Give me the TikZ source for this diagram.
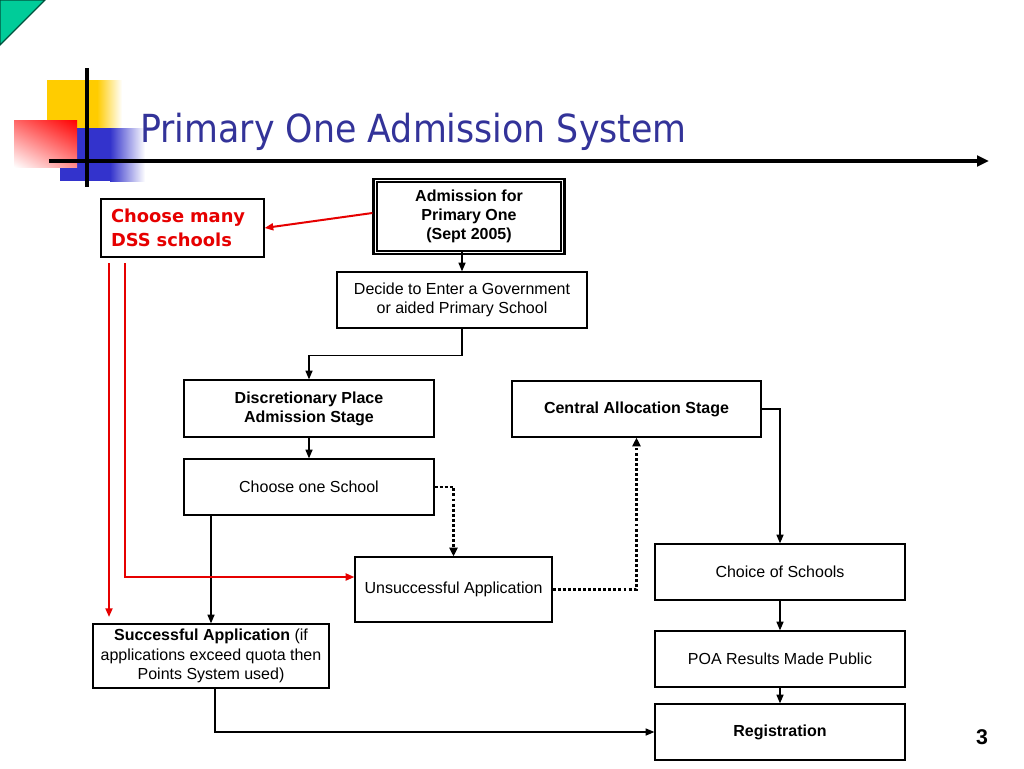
\documentclass[tikz,border=0pt]{standalone}
\usepackage{fontspec}
\setmainfont{Liberation Sans}
\newfontfamily\tahomafont{DejaVu Sans}[FakeStretch=0.9]
\newfontfamily\tahomabold{DejaVu Sans Bold}
\usetikzlibrary{arrows.meta,calc,shadings}
\definecolor{titleblue}{RGB}{51,51,153}
\definecolor{logoY}{RGB}{255,204,0}
\definecolor{logoB}{RGB}{51,51,204}
\definecolor{logoG}{RGB}{0,204,153}
\definecolor{redc}{RGB}{230,0,0}
\begin{document}
\begin{tikzpicture}[x=0.75pt,y=-0.75pt,
  box/.style={draw=black,line width=0.9pt,fill=white,align=center,inner sep=2pt,
    font=\fontsize{12}{14.4}\selectfont},
  arr/.style={line width=1.1pt,-{Triangle[length=6.5pt,width=5.2pt]}},
  dotarr/.style={line width=2.2pt,dash pattern=on 2.2pt off 1.6pt,-{Triangle[length=6.5pt,width=6pt]}},
  redarr/.style={draw=redc,line width=1.5pt,-{Triangle[length=6.5pt,width=5.2pt]}}]
\useasboundingbox (0,0) rectangle (1024,768);
\fill[white] (0,0) rectangle (1024,768);
% decoration
\filldraw[fill=logoG,draw=black!60!logoG,line width=0.8pt] (0,0) -- (45,0) -- (0,45) -- cycle;
\fill[logoY] (47,80) rectangle (97,128);
\shade[left color=logoY,right color=white] (97,80) rectangle (122,128);
\fill[logoB] (60,128) rectangle (110,181);
\shade[left color=logoB,right color=white] (110,128) rectangle (145,181);
\shade[upper left=red!60,upper right=red,lower left=white,lower right=red!45] (14,120) rectangle (77,167);
\coordinate (v1) at (87,68);
\coordinate (v2) at (87,187);
\draw[line width=2.4pt] (v1) -- (v2);
\coordinate (h1) at (49,161);
\coordinate (h2) at (989,161);
\draw[line width=2.3pt,-{Triangle[length=9pt,width=8pt]}] (h1) -- (h2);
% title
\node[anchor=base west,inner sep=0,text=titleblue,font=\tahomafont\fontsize{29}{34}\selectfont] (title) at (140,142) {Primary One Admission System};
% boxes
\node[box,minimum width=138pt,minimum height=51.75pt,font=\bfseries\fontsize{12}{14.4}\selectfont] (adm) at (469,216.5) {Admission for\\Primary One\\(Sept 2005)};
\draw[line width=2pt] ($(adm.north west)+(-3,-2.5)$) rectangle ($(adm.south east)+(3,2.5)$);
\node[box,minimum width=122.25pt,minimum height=43.5pt,text width=107.25pt,inner sep=7.5pt,align=left,text=redc,font=\tahomabold\fontsize{13.4}{18}\selectfont] (dss) at (182.5,228) {Choose many\\DSS schools};
\node[box,minimum width=187.5pt,minimum height=42pt] (dec) at (462,300) {Decide to Enter a Government\\or aided Primary School};
\node[box,minimum width=187.5pt,minimum height=42.75pt,font=\bfseries\fontsize{12}{14.4}\selectfont] (disc) at (309,408.5) {Discretionary Place\\Admission Stage};
\node[box,minimum width=186.75pt,minimum height=42pt,font=\bfseries\fontsize{12}{14.4}\selectfont] (cen) at (636.5,409) {Central Allocation Stage};
\node[box,minimum width=187.5pt,minimum height=42pt] (one) at (309,487) {Choose one School};
\node[box,minimum width=147.75pt,minimum height=48.75pt] (uns) at (453.5,589.5) {Unsuccessful Application};
\node[box,minimum width=187.5pt,minimum height=42pt] (cho) at (780,572) {Choice of Schools};
\node[box,minimum width=187.5pt,minimum height=42pt] (poa) at (780,659) {POA Results Made Public};
\node[box,minimum width=187.5pt,minimum height=42pt,font=\bfseries\fontsize{12}{14.4}\selectfont] (reg) at (780,732) {Registration};
\node[box,minimum width=177pt,minimum height=48pt] (suc) at (211,656) {\textbf{Successful Application} (if\\applications exceed quota then\\Points System used)};
\node[font=\bfseries\fontsize{16}{19}\selectfont] (pg) at (982,737) {3};
% connectors
\draw[arr] (adm.south -| dec.north) -- (dec.north);
\draw[arr] (dec.south) -- ++(0,27) -| (disc.north);
\draw[arr] (disc.south) -- (one.north);
\draw[dotarr] (one.east) -| (uns.north);
\draw[dotarr] (uns.east) -| (cen.south);
\draw[arr] (cen.east) -| (cho.north);
\draw[arr] (cho.south) -- (poa.north);
\draw[arr] (poa.south) -- (reg.north);
\draw[arr] (suc.north |- one.south) -- (suc.north);
\draw[arr] ($(suc.south)+(4,0)$) |- (reg.west);
% red connectors
\draw[redarr] ($(adm.west)+(-4,-3.5)$) -- (dss.east);
\coordinate (r1) at (109,263);
\coordinate (r1e) at (109,617);
\coordinate (r2) at (125,263);
\draw[redarr] (r1) -- (r1e);
\draw[redarr] (r2) |- ($(uns.west)+(0,-12.5)$);
\end{tikzpicture}
\end{document}
